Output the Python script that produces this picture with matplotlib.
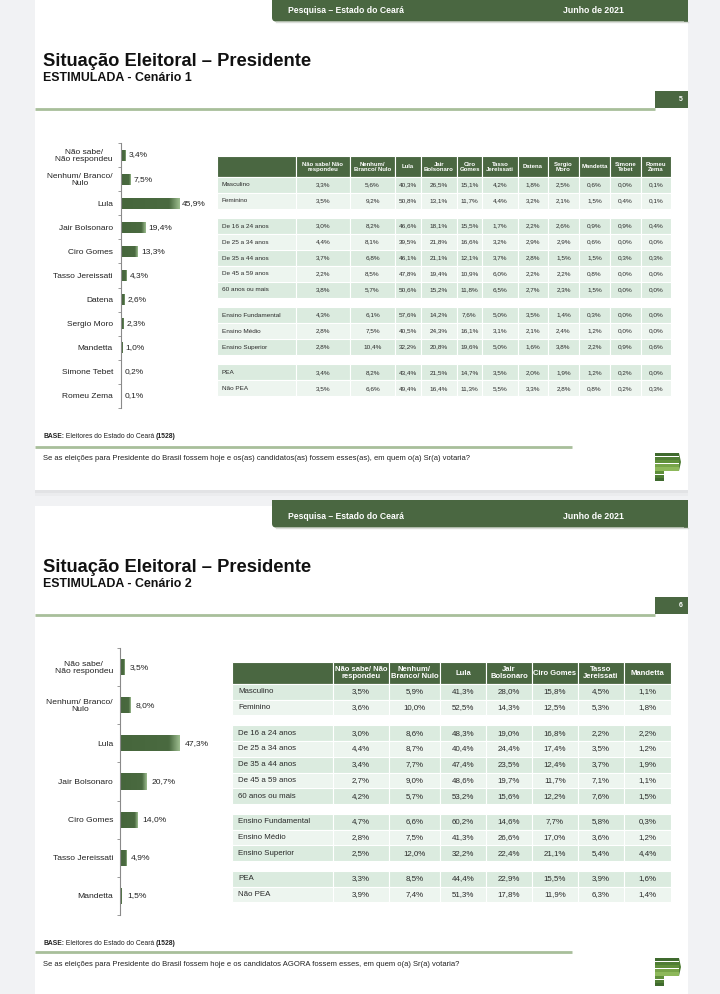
import matplotlib
matplotlib.use("Agg")
import matplotlib.pyplot as plt
import numpy as np
from matplotlib.patches import Rectangle, FancyBboxPatch, Polygon
from matplotlib.colors import LinearSegmentedColormap

plt.rcParams['font.family'] = ['Liberation Sans', 'DejaVu Sans']

W, H = 720, 994
GREEN = '#4a6741'
LINE_GREEN = '#a8bf9a'
ROW_DARK = '#dbebdf'
ROW_LIGHT = '#edf5ef'
TXT = '#2a2a2a'

# ---------------- data ----------------
cands1 = ["Não sabe/\nNão respondeu", "Nenhum/ Branco/\nNulo", "Lula", "Jair Bolsonaro",
          "Ciro Gomes", "Tasso Jereissati", "Datena", "Sergio Moro", "Mandetta",
          "Simone Tebet", "Romeu Zema"]
vals1 = [3.4, 7.5, 45.9, 19.4, 13.3, 4.3, 2.6, 2.3, 1.0, 0.2, 0.1]

cands2 = ["Não sabe/\nNão respondeu", "Nenhum/ Branco/\nNulo", "Lula", "Jair Bolsonaro",
          "Ciro Gomes", "Tasso Jereissati", "Mandetta"]
vals2 = [3.5, 8.0, 47.3, 20.7, 14.0, 4.9, 1.5]

row_labels = ["Masculino", "Feminino",
              "De 16 a 24 anos", "De 25 a 34 anos", "De 35 a 44 anos", "De 45 a 59 anos", "60 anos ou mais",
              "Ensino Fundamental", "Ensino Médio", "Ensino Superior",
              "PEA", "Não PEA"]
row_groups = [2, 5, 3, 2]

cols1 = ["Não sabe/ Não\nrespondeu", "Nenhum/\nBranco/ Nulo", "Lula", "Jair\nBolsonaro", "Ciro\nGomes",
         "Tasso\nJereissati", "Datena", "Sergio\nMoro", "Mandetta", "Simone\nTebet", "Romeu\nZema"]
tab1 = [
    [3.3, 5.6, 40.3, 26.5, 15.1, 4.2, 1.8, 2.5, 0.6, 0.0, 0.1],
    [3.5, 9.2, 50.8, 13.1, 11.7, 4.4, 3.2, 2.1, 1.5, 0.4, 0.1],
    [3.0, 8.2, 46.6, 18.1, 15.5, 1.7, 2.2, 2.6, 0.9, 0.9, 0.4],
    [4.4, 8.1, 39.5, 21.8, 16.6, 3.2, 2.9, 2.9, 0.6, 0.0, 0.0],
    [3.7, 6.8, 46.1, 21.1, 12.1, 3.7, 2.8, 1.5, 1.5, 0.3, 0.3],
    [2.2, 8.5, 47.8, 19.4, 10.9, 6.0, 2.2, 2.2, 0.8, 0.0, 0.0],
    [3.8, 5.7, 50.6, 15.2, 11.8, 6.5, 2.7, 2.3, 1.5, 0.0, 0.0],
    [4.3, 6.1, 57.6, 14.2, 7.6, 5.0, 3.5, 1.4, 0.3, 0.0, 0.0],
    [2.8, 7.5, 40.5, 24.3, 16.1, 3.1, 2.1, 2.4, 1.2, 0.0, 0.0],
    [2.8, 10.4, 32.2, 20.8, 19.6, 5.0, 1.6, 3.8, 2.2, 0.9, 0.6],
    [3.4, 8.2, 43.4, 21.5, 14.7, 3.5, 2.0, 1.9, 1.2, 0.2, 0.0],
    [3.5, 6.6, 49.4, 16.4, 11.3, 5.5, 3.3, 2.8, 0.8, 0.2, 0.3],
]

cols2 = ["Não sabe/ Não\nrespondeu", "Nenhum/\nBranco/ Nulo", "Lula", "Jair\nBolsonaro", "Ciro Gomes",
         "Tasso\nJereissati", "Mandetta"]
tab2 = [
    [3.5, 5.9, 41.3, 28.0, 15.8, 4.5, 1.1],
    [3.6, 10.0, 52.5, 14.3, 12.5, 5.3, 1.8],
    [3.0, 8.6, 48.3, 19.0, 16.8, 2.2, 2.2],
    [4.4, 8.7, 40.4, 24.4, 17.4, 3.5, 1.2],
    [3.4, 7.7, 47.4, 23.5, 12.4, 3.7, 1.9],
    [2.7, 9.0, 48.6, 19.7, 11.7, 7.1, 1.1],
    [4.2, 5.7, 53.2, 15.6, 12.2, 7.6, 1.5],
    [4.7, 6.6, 60.2, 14.6, 7.7, 5.8, 0.3],
    [2.8, 7.5, 41.3, 26.6, 17.0, 3.6, 1.2],
    [2.5, 12.0, 32.2, 22.4, 21.1, 5.4, 4.4],
    [3.3, 8.5, 44.4, 22.9, 15.5, 3.9, 1.6],
    [3.9, 7.4, 51.3, 17.8, 11.9, 6.3, 1.4],
]

question1 = ("Se as eleições para Presidente do Brasil fossem hoje e os(as) candidatos(as) "
             "fossem esses(as), em quem o(a) Sr(a) votaria?")
question2 = ("Se as eleições para Presidente do Brasil fossem hoje e os candidatos AGORA "
             "fossem esses, em quem o(a) Sr(a) votaria?")


def pct(v):
    return f"{v:.1f}".replace('.', ',') + '%'


fig = plt.figure(figsize=(W / 100, H / 100), dpi=100)
fig.patch.set_facecolor('#f1f2f4')
bg = fig.add_axes([0, 0, 1, 1])
bg.set_xlim(0, W)
bg.set_ylim(H, 0)
bg.axis('off')
renderer = fig.canvas.get_renderer()


def px_axes(x0, y0, x1, y1):
    return fig.add_axes([x0 / W, 1 - y1 / H, (x1 - x0) / W, (y1 - y0) / H])


def logo(x, y):
    # striped "P" mark
    shades = ['#3f6a2e', '#4f7d34', '#5f8f3a', '#77a448', '#8db85a', '#5f8f3a', '#4f7d34', '#3f6a2e']
    for k, c in enumerate(shades):
        wdt = 24 if k < 5 else 9
        bg.add_patch(Rectangle((x, y + k * 3.6), wdt, 3.2, fc=c, ec='none'))
    bg.add_patch(Polygon([(x + 24, y), (x + 26, y + 9), (x + 24, y + 18)], fc='#4f7d34', ec='none'))


def slide(top, bottom, num, subtitle, q, base_y, line_y, q_y):
    bg.add_patch(Rectangle((35, top), 653, bottom - top, fc='white', ec='none'))
    # header band
    bg.add_patch(FancyBboxPatch((272, top - 6), 416, 27.5, boxstyle="round,pad=0,rounding_size=4",
                                fc=GREEN, ec='none'))
    bg.add_patch(Rectangle((272, top - 6), 416, 10, fc=GREEN, ec='none'))
    bg.add_patch(Rectangle((684, top - 6), 4, 27.5, fc=GREEN, ec='none'))
    bg.plot([276, 688], [top + 22, top + 22], color='#d9dcd7', lw=1)
    bg.text(288, top + 10.5, "Pesquisa – Estado do Ceará", color='white', fontsize=6.2,
            fontweight='bold', va='center')
    bg.text(563, top + 10.5, "Junho de 2021", color='white', fontsize=6.3,
            fontweight='bold', va='center')
    bg.text(43, top + 61, "Situação Eleitoral – Presidente", fontsize=13.2, fontweight='bold',
            va='center', color='#111111')
    bg.text(43, top + 78, subtitle, fontsize=8.9, fontweight='bold', va='center', color='#111111')
    bg.add_patch(Rectangle((655, top + 91), 33, 17, fc=GREEN, ec='none'))
    bg.text(681, top + 99.5, num, color='white', fontsize=5, fontweight='bold', ha='center', va='center')
    bg.plot([35, 655], [top + 108.5, top + 108.5], color=LINE_GREEN, lw=2, solid_capstyle='butt')
    # footer
    x = 43
    for s, wgt in [("BASE:", 'bold'), (" Eleitores do Estado do Ceará ", 'normal'), ("(1528)", 'bold')]:
        t = bg.text(x, base_y, s, fontsize=4.9, fontweight=wgt, va='center', color='#222222')
        x += t.get_window_extent(renderer=renderer).width
    bg.plot([35, 572], [line_y, line_y], color=LINE_GREEN, lw=2, solid_capstyle='butt')
    bg.text(43, q_y, q, fontsize=5.5, va='center', color='#222222')


# slide backgrounds
slide(0, 490, "5", "ESTIMULADA - Cenário 1", question1, 436.5, 447, 459)
bg.add_patch(Rectangle((35, 490), 653, 3, fc='#e2e3e5', ec='none'))
bg.add_patch(Rectangle((35, 493), 653, 3, fc='#ebecee', ec='none'))
slide(506, 1000, "6", "ESTIMULADA - Cenário 2", question2, 943.5, 952, 965)
logo(655, 453)
logo(655, 958)

bar_cmap = LinearSegmentedColormap.from_list(
    'bar', [(0, '#46663c'), (0.82, '#4a6a40'), (1.0, '#9dbd8f')])
grad = np.linspace(0, 1, 200)[None, :]


def bar_chart(ax, cands, vals, bar_h, xmax, label_pad, val_pad, fs):
    y = np.arange(len(cands))
    bars = ax.barh(y, vals, height=bar_h, color=GREEN, edgecolor='none')
    for b in bars:
        x0, y0, bw, bh = b.get_x(), b.get_y(), b.get_width(), b.get_height()
        im = ax.imshow(grad, cmap=bar_cmap, aspect='auto', extent=(x0, x0 + bw, y0 + bh, y0),
                       zorder=2, interpolation='bilinear')
        im.set_clip_path(b)
    ax.set_xlim(0, xmax)
    ax.set_ylim(len(cands) - 0.5, -0.5)
    ax.set_facecolor('none')
    for s in ['top', 'right', 'bottom']:
        ax.spines[s].set_visible(False)
    ax.spines['left'].set_color('#8a8a8a')
    ax.spines['left'].set_linewidth(0.8)
    ax.set_xticks([])
    ax.set_yticks(y)
    ax.set_yticklabels(cands, fontsize=fs, color='#222222')
    for lab in ax.get_yticklabels():
        lab.set_multialignment('center')
        lab.set_linespacing(1.0)
    ax.tick_params(axis='y', which='major', length=0, pad=label_pad)
    ax.set_yticks(np.arange(len(cands) + 1) - 0.5, minor=True)
    ax.tick_params(axis='y', which='minor', length=2.5, color='#8a8a8a', width=0.6)
    for i, v in enumerate(vals):
        ax.annotate(pct(v), (v, i), xytext=(val_pad, 0), textcoords='offset points',
                    va='center', ha='left', fontsize=fs, color='#222222')


ax1 = px_axes(121, 143, 215, 408)
bar_chart(ax1, cands1, vals1, 0.46, 94 / 1.265, 5.8, 2.2, 6.0)

ax2 = px_axes(120, 648, 215, 915)
bar_chart(ax2, cands2, vals2, 0.42, 95 / 1.268, 5.0, 3.6, 6.1)


def draw_table(edges, top, head_h, row_h, gap, cols, data, fs_head, fs_body, lab_pad):
    for j in range(len(edges) - 1):
        bg.add_patch(Rectangle((edges[j], top), edges[j + 1] - edges[j], head_h,
                               fc=GREEN, ec='white', lw=0.8))
    for j, c in enumerate(cols):
        cx = (edges[j + 1] + edges[j + 2]) / 2
        bg.text(cx, top + head_h / 2 + 0.3, c, color='white', fontsize=fs_head, fontweight='bold',
                ha='center', va='center', linespacing=1.05)
    y = top + head_h
    r = 0
    for g in row_groups:
        for k in range(g):
            fc = ROW_DARK if k % 2 == 0 else ROW_LIGHT
            for j in range(len(edges) - 1):
                bg.add_patch(Rectangle((edges[j], y), edges[j + 1] - edges[j], row_h,
                                       fc=fc, ec='white', lw=0.8))
            bg.text(edges[0] + lab_pad, y + row_h / 2, row_labels[r], fontsize=fs_body,
                    color=TXT, va='center', ha='left')
            for j, v in enumerate(data[r]):
                cx = (edges[j + 1] + edges[j + 2]) / 2
                bg.text(cx, y + row_h / 2, pct(v), fontsize=fs_body, color=TXT,
                        ha='center', va='center')
            y += row_h
            r += 1
        y += gap


edges1 = [217, 296, 350, 395, 421, 457, 482, 518, 548, 579, 610, 641, 671]
draw_table(edges1, 156, 21, 15.9, 9.5, cols1, tab1, 4.3, 4.6, 5)

edges2 = [232, 333, 389, 440, 486, 532, 578, 624, 671]
draw_table(edges2, 662, 22, 15.7, 10, cols2, tab2, 5.5, 5.7, 6)

fig.savefig('out.png', dpi=100, facecolor=fig.get_facecolor())
